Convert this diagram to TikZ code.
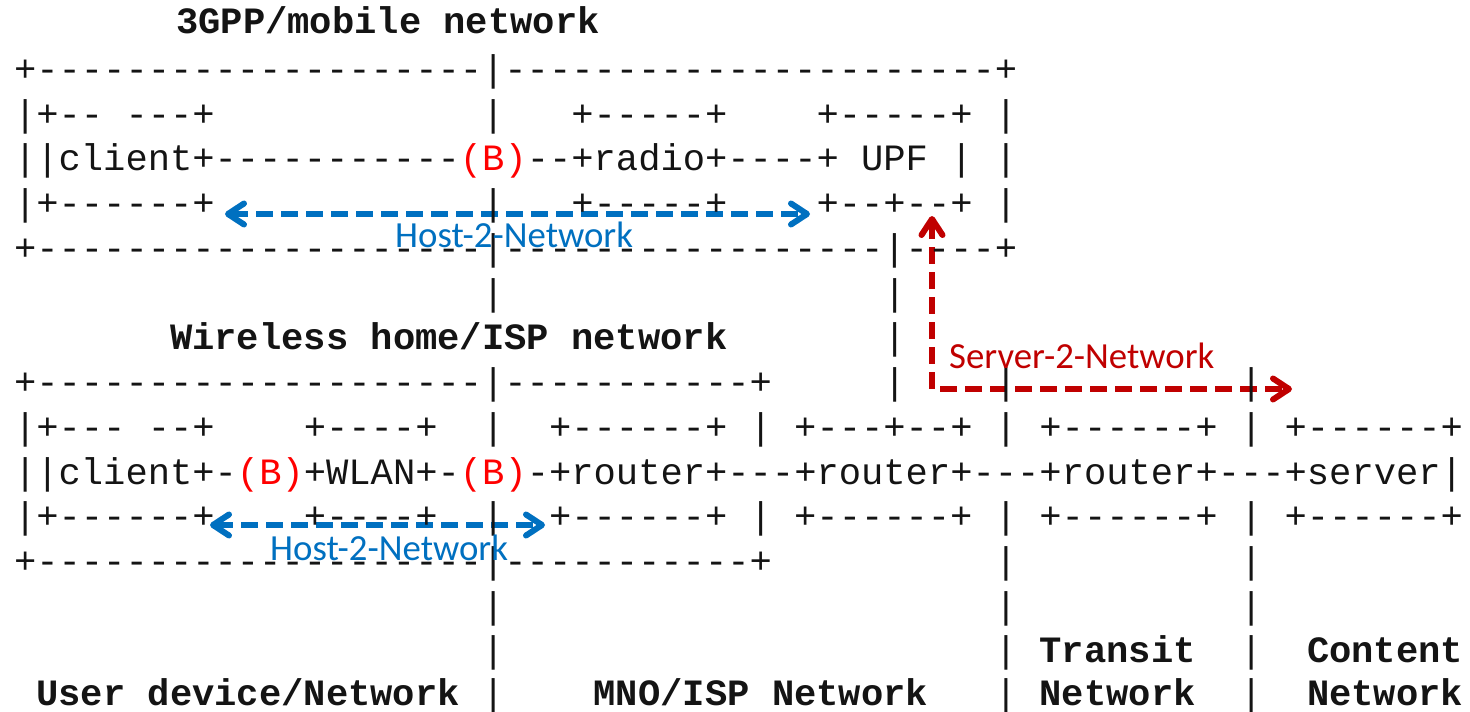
\documentclass[tikz,border=0pt]{standalone}
\usepackage{fontspec}
\setmonofont{Liberation Mono}
\newfontfamily\carlito{Carlito}
\usetikzlibrary{arrows.meta}
\ExplSyntaxOn
\cs_new:Npn \Rep #1#2 { \prg_replicate:nn {#1} {#2} }
\ExplSyntaxOff
\definecolor{hblue}{RGB}{0,112,192}
\definecolor{sred}{RGB}{192,0,0}
\definecolor{bred}{RGB}{255,0,0}
\definecolor{ink}{RGB}{20,20,20}
\newcommand\BB{\textcolor{bred}{(B)}}
\newcommand\sps[1]{\Rep{#1}{~}}
\newcommand\dsh[1]{\Rep{#1}{-}}
\tikzset{
  row/.style={anchor=base west, inner sep=0pt, text=ink, font=\ttfamily\fontsize{37.15}{44.73}\selectfont},
  lbl/.style={anchor=base west, inner sep=0pt, font=\carlito\fontsize{36.8}{44}\selectfont},
  barb/.tip={Straight Barb[round,length=16pt,width=21pt]},
  h2n/.style={draw=hblue, line width=6pt, dash pattern=on 17pt off 8pt, barb-barb},
  s2n/.style={draw=sred, line width=6pt, dash pattern=on 17pt off 8pt, barb-barb}
}
\begin{document}
\begin{tikzpicture}[x=1pt,y=-1pt]
\useasboundingbox[fill=white] (0,0) rectangle (1470,712);
% connector end points
\coordinate (h1a) at (225,214);
\coordinate (h1b) at (810,214);
\coordinate (h2a) at (210,525);
\coordinate (h2b) at (545,525);
\coordinate (s1) at (932,216);
\coordinate (s2) at (1292,389);
% arrows
\draw[h2n] (h1a) -- (h1b);
\draw[h2n] (h2a) -- (h2b);
\draw[s2n] (s1) |- (s2);
% ASCII rows
\node[row] (r1) at (176,33) {\bfseries 3GPP/mobile~network};
\node[row] (r2) at (13.85,81.5) {+\dsh{20}|\dsh{22}+};
\node[row] (r3) at (13.85,126.23) {|+--~---+\sps{12}|\sps{3}+-----+\sps{4}+-----+~|};
\node[row] (r4) at (13.85,170.96) {||client+\dsh{11}\BB--+radio+----+~UPF~|~|};
\node[row] (r5) at (13.85,215.69) {|+------+\sps{12}|\sps{3}+-----+\sps{4}+--+--+~|};
\node[row] (r6) at (13.85,260.42) {+\dsh{20}|\dsh{17}|\dsh{4}+};
\node[row] (r7) at (13.85,305.15) {\sps{21}|\sps{17}|};
\node[row] (r8) at (13.85,349.5) {\sps{7}\textbf{Wireless~home/ISP~network}\sps{7}|};
\node[row] (r9) at (13.85,394.61) {+\dsh{20}|\dsh{11}+\sps{5}|\sps{4}|\sps{10}|};
\node[row] (r10) at (13.85,439.34) {|+---~--+\sps{4}+----+\sps{2}|\sps{2}+------+~|~+---+--+~|~+------+~|~+------+};
\node[row] (r11) at (13.85,484.07) {||client+-\BB+WLAN+-\BB-+router+---+router+---+router+---+server|};
\node[row] (r12) at (13.85,528.8) {|+------+\sps{4}+----+\sps{2}|\sps{2}+------+~|~+------+~|~+------+~|~+------+};
\node[row] (r13) at (13.85,573.53) {+\dsh{20}|\dsh{11}+\sps{10}|\sps{10}|};
\node[row] (r14) at (13.85,618.26) {\sps{21}|\sps{22}|\sps{10}|};
\node[row] (r15) at (13.85,662.5) {\sps{21}|\sps{22}|~\textbf{Transit}\sps{2}|\sps{2}\textbf{Content}};
\node[row] (r16) at (13.85,705.5) {~\textbf{User~device/Network}~|\sps{4}\textbf{MNO/ISP~Network}\sps{3}|~\textbf{Network}\sps{2}|\sps{2}\textbf{Network}};
% labels
\node[lbl, text=hblue] (l1) at (395,247) {Host-2-Network};
\node[lbl, text=hblue] (l2) at (270,560) {Host-2-Network};
\node[lbl, text=sred] (l3) at (949,368) {Server-2-Network};
\end{tikzpicture}
\end{document}
